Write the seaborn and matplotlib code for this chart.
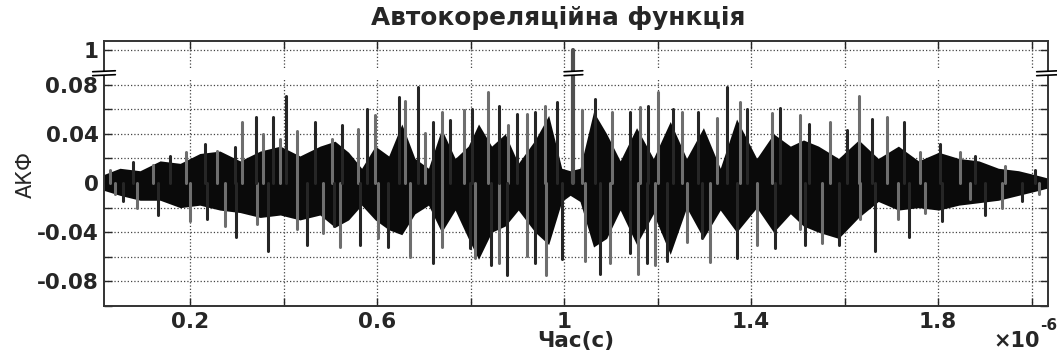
import matplotlib
matplotlib.use('Agg')
import matplotlib.pyplot as plt
import numpy as np
import pandas as pd
import seaborn as sns

# time axis in units of 1e-6 s
core_t = [0.016, 0.050, 0.093, 0.136, 0.179, 0.221, 0.264, 0.307, 0.350, 0.393, 0.435, 0.478,
          0.510, 0.539, 0.567, 0.596, 0.625, 0.653, 0.681, 0.710, 0.738, 0.767, 0.795, 0.817,
          0.845, 0.874, 0.902, 0.938, 0.967, 0.995, 1.013, 1.034, 1.063, 1.091, 1.120, 1.155,
          1.191, 1.227, 1.262, 1.298, 1.334, 1.369, 1.412, 1.448, 1.484, 1.512, 1.544, 1.587,
          1.630, 1.672, 1.715, 1.758, 1.801, 1.844, 1.887, 1.929, 1.972, 2.015, 2.035]
core_hi = [0.007, 0.012, 0.010, 0.018, 0.016, 0.024, 0.026, 0.018, 0.026, 0.030, 0.022, 0.030,
           0.034, 0.025, 0.012, 0.030, 0.022, 0.048, 0.020, 0.012, 0.044, 0.020, 0.030, 0.048,
           0.030, 0.040, 0.016, 0.035, 0.055, 0.012, 0.010, 0.012, 0.058, 0.040, 0.018, 0.045,
           0.020, 0.050, 0.020, 0.045, 0.012, 0.052, 0.020, 0.040, 0.030, 0.035, 0.030, 0.020,
           0.035, 0.020, 0.030, 0.018, 0.025, 0.020, 0.018, 0.012, 0.010, 0.006, 0.004]
core_lo = [-0.006, -0.010, -0.014, -0.014, -0.020, -0.018, -0.022, -0.024, -0.028, -0.026, -0.030, -0.026,
           -0.036, -0.030, -0.018, -0.030, -0.038, -0.042, -0.025, -0.018, -0.040, -0.022, -0.045, -0.062,
           -0.040, -0.035, -0.022, -0.040, -0.050, -0.015, -0.010, -0.015, -0.052, -0.045, -0.022, -0.050,
           -0.025, -0.058, -0.020, -0.045, -0.022, -0.040, -0.020, -0.040, -0.025, -0.035, -0.040, -0.045,
           -0.028, -0.015, -0.022, -0.020, -0.022, -0.018, -0.016, -0.014, -0.010, -0.006, -0.004]

up_t = [0.029, 0.079, 0.121, 0.157, 0.191, 0.232, 0.257, 0.296, 0.311, 0.341, 0.357, 0.377,
        0.393, 0.405, 0.428, 0.467, 0.503, 0.524, 0.560, 0.578, 0.596, 0.646, 0.660, 0.688,
        0.703, 0.720, 0.738, 0.756, 0.785, 0.803, 0.837, 0.860, 0.881, 0.899, 0.920, 0.938,
        0.959, 0.984, 1.038, 1.066, 1.102, 1.141, 1.163, 1.180, 1.200, 1.234, 1.252, 1.287,
        1.327, 1.348, 1.376, 1.391, 1.444, 1.461, 1.505, 1.523, 1.569, 1.605, 1.630, 1.658,
        1.690, 1.726, 1.761, 1.804, 1.847, 1.879, 1.943, 2.007]
up_v = [0.011, 0.017, 0.015, 0.022, 0.025, 0.032, 0.026, 0.029, 0.050, 0.054, 0.040, 0.054,
        0.036, 0.071, 0.042, 0.050, 0.036, 0.047, 0.044, 0.060, 0.055, 0.070, 0.067, 0.078,
        0.041, 0.050, 0.058, 0.051, 0.059, 0.060, 0.074, 0.063, 0.047, 0.056, 0.056, 0.058,
        0.063, 0.066, 0.059, 0.068, 0.058, 0.058, 0.062, 0.063, 0.074, 0.060, 0.058, 0.058,
        0.053, 0.078, 0.066, 0.060, 0.057, 0.061, 0.055, 0.048, 0.050, 0.043, 0.071, 0.052,
        0.054, 0.050, 0.025, 0.032, 0.025, 0.022, 0.014, 0.011]

dn_t = [0.040, 0.057, 0.086, 0.132, 0.200, 0.236, 0.275, 0.298, 0.343, 0.367, 0.428, 0.451,
        0.485, 0.507, 0.521, 0.564, 0.603, 0.624, 0.671, 0.720, 0.738, 0.799, 0.810, 0.844,
        0.860, 0.877, 0.920, 0.938, 0.961, 0.995, 1.045, 1.077, 1.098, 1.141, 1.159, 1.177,
        1.195, 1.220, 1.262, 1.295, 1.312, 1.369, 1.412, 1.451, 1.505, 1.516, 1.551, 1.587,
        1.633, 1.665, 1.715, 1.737, 1.772, 1.808, 1.868, 1.901, 1.936, 1.979, 2.015]
dn_v = [-0.009, -0.015, -0.020, -0.026, -0.031, -0.029, -0.035, -0.044, -0.033, -0.055, -0.037, -0.050,
        -0.041, -0.035, -0.052, -0.050, -0.045, -0.052, -0.060, -0.065, -0.052, -0.053, -0.061, -0.067,
        -0.065, -0.075, -0.059, -0.065, -0.075, -0.062, -0.063, -0.074, -0.065, -0.057, -0.074, -0.065,
        -0.067, -0.063, -0.048, -0.045, -0.064, -0.061, -0.050, -0.053, -0.037, -0.050, -0.049, -0.050,
        -0.029, -0.055, -0.029, -0.044, -0.024, -0.031, -0.013, -0.026, -0.020, -0.015, -0.009]

peak_t = 1.02
peak_v = 1.0

x_ticks = [0.2, 0.4, 0.6, 0.8, 1.0, 1.2, 1.4, 1.6, 1.8, 2.0]
x_labels = ['0.2', '', '0.6', '', '1', '', '1.4', '', '1.8', '']
y_ticks = [-0.1, -0.08, -0.06, -0.04, -0.02, 0, 0.02, 0.04, 0.06, 0.08]
y_labels = ['', '-0.08', '', '-0.04', '', '0', '', '0.04', '', '0.08']

# broken y axis: everything above BREAK is shifted down so 1 sits at TOP_POS
BREAK = 0.0893
TOP_POS = 0.108
def squeeze(v):
    return v - peak_v + TOP_POS if v > BREAK else v

sns.set_style('ticks')
plt.rcParams['font.family'] = ['DejaVu Sans']

fig = plt.figure(figsize=(10.57, 3.53), dpi=100)
ax = fig.add_axes([0.0984, 0.1331, 0.8931, 0.7508])

ax.fill_between(core_t, core_lo, core_hi, color='#0a0a0a', lw=0, zorder=2)

# spikes as 2-point lines, one unit per spike; alternate dark / grey like the original
rows = []
for i, (t, v) in enumerate(zip(up_t + dn_t, up_v + dn_v)):
    rows += [(i, i % 2, t, 0.0), (i, i % 2, t, v)]
spikes = pd.DataFrame(rows, columns=['id', 'tone', 't', 'v'])
sns.lineplot(data=spikes, x='t', y='v', units='id', hue='tone', estimator=None, sort=False,
             palette=['#6e6e6e', '#262626'], lw=2.2, legend=False, ax=ax, zorder=3)

center = pd.DataFrame({'t': [peak_t, peak_t], 'v': [0.0, squeeze(peak_v)]})
sns.lineplot(data=center, x='t', y='v', estimator=None, sort=False,
             color='#505050', lw=3, ax=ax, zorder=3)

ax.set_xlim(0.016, 2.035)
ax.set_ylim(-0.1, 0.1155)
ax.set_xticks(x_ticks)
ax.set_xticklabels(x_labels)
ax.set_yticks(y_ticks + [TOP_POS])
ax.set_yticklabels(y_labels + ['1'])
ax.set_xlabel('')
ax.set_ylabel('')
ax.tick_params(direction='in', top=True, right=True, length=6, width=1,
               labelsize=15.5, pad=4)
for lab in ax.get_xticklabels() + ax.get_yticklabels():
    lab.set_fontweight('bold')
ax.tick_params(axis='x', pad=4)
ax.grid(True, ls=':', color='#444444', lw=0.9)
ax.set_axisbelow(True)
for s in ax.spines.values():
    s.set_color('#333333')
    s.set_linewidth(1.4)

# gap in the grid at the break
ax.axhspan(BREAK - 0.004, BREAK + 0.004, color='white', lw=0, zorder=1)

# break marks on both spines and on the central peak
def break_mark(x0, x1, trans):
    ax.fill_between([x0, x1], BREAK - 0.0016, BREAK + 0.0016, color='white', lw=0,
                    transform=trans, zorder=5, clip_on=False)
    for dy in (-0.0016, 0.0016):
        ax.plot([x0, x1], [BREAK + dy - 0.0004, BREAK + dy + 0.0004], color='black', lw=1.2,
                transform=trans, zorder=6, clip_on=False)

blend = ax.get_yaxis_transform()
break_mark(-0.012, 0.012, blend)
break_mark(0.988, 1.012, blend)
break_mark(peak_t - 0.02, peak_t + 0.02, ax.transData)

fig.text(558 / 1057, 1 - 18 / 353, 'Автокореляційна функція', ha='center', va='center',
         fontsize=17.8, fontweight='bold')
fig.text(0.5 * (104 + 1048) / 1057, 1 - 341 / 353, 'Час(с)', ha='center', va='center',
         fontsize=15.5, fontweight='bold')
fig.text(26 / 1057, 1 - 175 / 353, 'АКФ', rotation=90, ha='center', va='center',
         fontsize=15)
fig.text(1040 / 1057, 1 - 347 / 353, '×10', ha='right', va='baseline', fontsize=15,
         fontweight='bold')
fig.text(1040 / 1057, 1 - 330 / 353, '-6', ha='left', va='baseline', fontsize=11,
         fontweight='bold')

fig.savefig('out.png', dpi=100)
